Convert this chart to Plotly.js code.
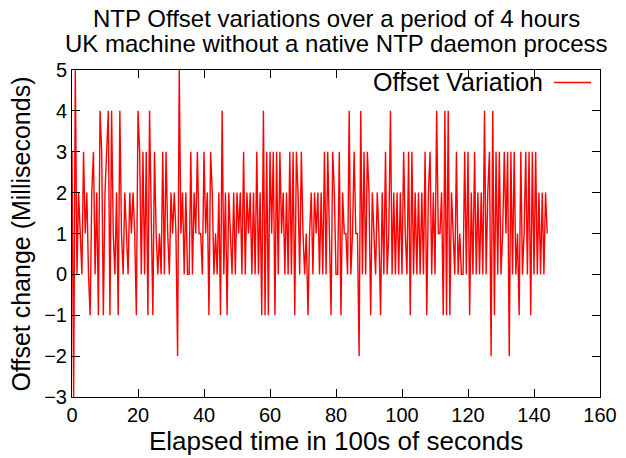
<!DOCTYPE html>
<html>
<head>
<meta charset="utf-8">
<script src="https://cdn.plot.ly/plotly-3.0.1.min.js"></script>
<style>html,body{margin:0;padding:0;background:#fff;}#chart{width:626px;height:458px;}</style>
</head>
<body>
<div id="chart"></div>
<script>
// Offset change (ms), one sample every 0.5 (x100 s)
const seg1 = [3,-3,5,0,2,1,0,3,1,2,0,-1,2,3,0,2,-1,4,3,-1,2];
const seg2 = [3,4,-1,4,1,0,2,-1,4,1,0,2,1,0,2,1,2,1,-1,4,3,0,3,0];
const seg3 = [3,-1,4,1,-1,3,1,0,1,0,3,0,3,1,0,2,1,2,1,-2,5,1,2,0,2];
const seg4 = [0,0,3,0,2,1,3,1,1,0,3,1,2,-1,3,2,0,1,0,2,-1,4,0,2];
const seg5 = [-1,2,1,0,2,0,2,1,2,0,3,0,2,1,2,0,2,0,3,0,2,-1,4,-1];
const seg6 = [3,-1,3,1,3,-1,3,0,3,1,2,0,2,0,3,0,3,-1,3,2,0,3,1,0];
const seg7 = [1,-1,1,2,0,2,1,2,0,2,0,3,0,3,1,-1,3,2,0,0,3,-1,2,1];
const seg8 = [1,0,4,0,1,3,1,1,-2,4,0,3,0,3,2,-1,2,1,0,2,1,-1,2,0,3];
const seg9 = [0,1,4,0,2,0,2,0,2,0,3,1,0,3,-1,3,0,2,0,2,0,2,0,3];
const seg10 = [-1,2,3,0,2,0,4,1,1,2,-1,4,-1,4,-1,2,1,0,3,0,1,0,0,3];
const seg11 = [0,3,-1,2,0,3,0,2,0,2,0,4,0,2,3,-2,4,-1,3,0,3,0,1,3];
const seg12 = [1,3,-2,3,0,3,0,1,-1,3,0,1,3,0,3,-1,3,0,3,0,2,0,2,0,2,1];

const sampleStart = 0;
const sampleStep = 0.5;
const xTickVals = [0,20,40,60,80,100,120,140,160];
const yTickVals = [-3,-2,-1,0,1,2,3,4,5];
const seriesName = 'Offset Variation';
const titleLines = ['NTP Offset variations over a period of 4 hours',
                    'UK machine without a native NTP daemon process'];
const xTitle = 'Elapsed time in 100s of seconds';
const yTitle = 'Offset change (Milliseconds)';

const offsets = [].concat(seg1,seg2,seg3,seg4,seg5,seg6,seg7,seg8,seg9,seg10,seg11,seg12);
const times = offsets.map((_, i) => sampleStart + i * sampleStep);

const font = 'Liberation Sans, Arial, sans-serif';

const trace = {
  x: times, y: offsets, type: 'scatter', mode: 'lines', name: seriesName,
  line: {color: '#ff0000', width: 1.4}, showlegend: false
};

const layout = {
  width: 626, height: 458,
  margin: {l: 72, r: 26, t: 70, b: 61},
  paper_bgcolor: '#ffffff', plot_bgcolor: '#ffffff',
  font: {family: font, size: 20, color: '#000'},
  showlegend: false,
  xaxis: {
    range: [0, 160], tickvals: xTickVals, ticks: 'inside', ticklen: 8, tickcolor: '#000',
    showline: true, linecolor: '#000', linewidth: 1, mirror: 'allticks', automargin: false,
    showgrid: false, zeroline: false, tickfont: {size: 20, family: font}
  },
  yaxis: {
    range: [-3, 5], tickvals: yTickVals, ticks: 'inside', ticklen: 8, tickcolor: '#000',
    showline: true, linecolor: '#000', linewidth: 1, mirror: 'allticks', automargin: false,
    showgrid: false, zeroline: false, tickfont: {size: 20, family: font}
  },
  annotations: [
    {text: titleLines[0], xref: 'paper', yref: 'paper',
     x: 0.5, y: 1, yshift: 52, showarrow: false, xanchor: 'center', yanchor: 'middle',
     font: {size: 24, family: font}},
    {text: titleLines[1], xref: 'paper', yref: 'paper',
     x: 0.5, y: 1, yshift: 27, showarrow: false, xanchor: 'center', yanchor: 'middle',
     font: {size: 24, family: font}},
    {text: xTitle, xref: 'paper', yref: 'paper', x: 0.5, y: 0, yshift: -44,
     showarrow: false, xanchor: 'center', yanchor: 'middle', font: {size: 26, family: font}},
    {text: yTitle, xref: 'paper', yref: 'paper', x: 0, y: 0.5, xshift: -52, yshift: -1,
     textangle: -90, showarrow: false, xanchor: 'center', yanchor: 'middle',
     font: {size: 25, family: font}},
    {text: seriesName, xref: 'paper', yref: 'paper', x: 0.895, y: 0.962,
     showarrow: false, xanchor: 'right', yanchor: 'middle', font: {size: 25, family: font}}
  ],
  shapes: [
    {type: 'line', xref: 'paper', yref: 'paper', x0: 0.913, x1: 0.983, y0: 0.962, y1: 0.962,
     line: {color: '#ff0000', width: 1.4}}
  ]
};

Plotly.newPlot('chart', [trace], layout, {displayModeBar: false, staticPlot: true});
</script>
</body>
</html>
